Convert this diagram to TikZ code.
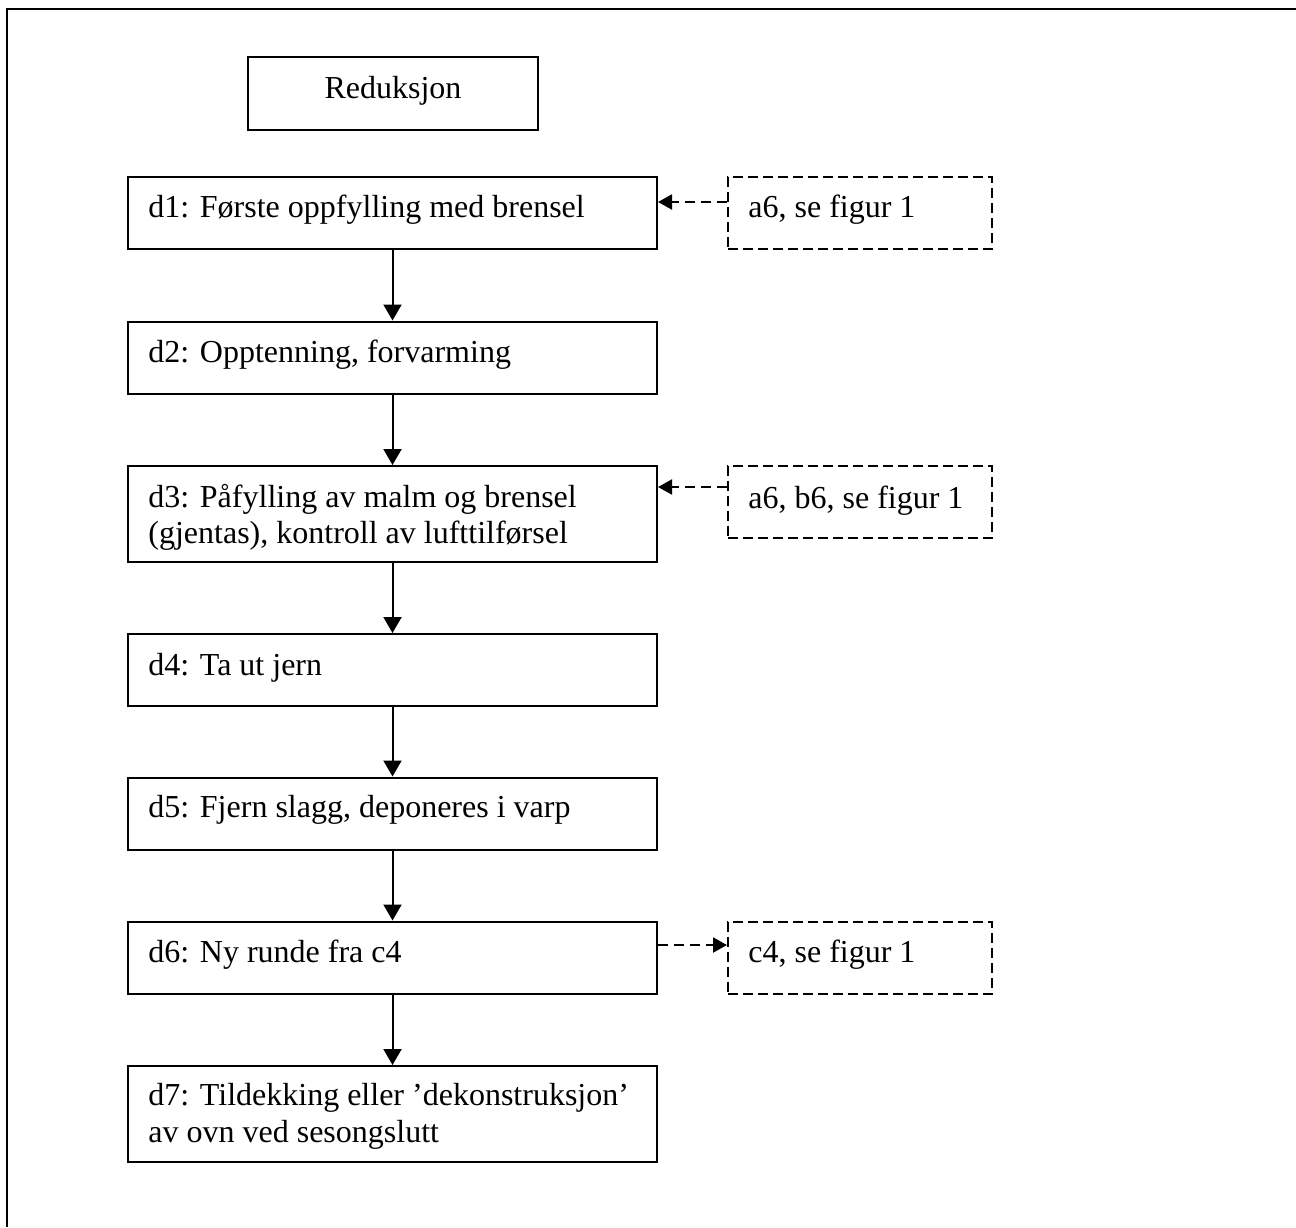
\documentclass[tikz,border=0pt]{standalone}
\usepackage{fontspec}
\setmainfont{Liberation Serif}
\usetikzlibrary{arrows.meta}
\begin{document}
\begin{tikzpicture}[x=0.5pt,y=-0.5pt,
  box/.style={draw, line width=1pt, rectangle, inner sep=0pt},
  stepbox/.style={box, minimum width=264.5pt, minimum height=36pt},
  tallbox/.style={box, minimum width=264.5pt, minimum height=48pt},
  dbox/.style={box, minimum width=132pt, minimum height=36pt, dash pattern=on 5pt off 2.5pt},
  txt/.style={anchor=base west, inner sep=0pt, font=\fontsize{16pt}{18pt}\selectfont},
  arr/.style={line width=1pt, -{Triangle[width=9pt,length=8pt]}},
  darr/.style={line width=1pt, dash pattern=on 5pt off 3pt, -{Triangle[width=7.5pt,length=7pt]}}]
\useasboundingbox (0,0) rectangle (1296,1227);
% outer frame
\coordinate (fbl) at (7,1227);
\coordinate (ftl) at (7,9);
\coordinate (ftr) at (1296,9);
\draw[line width=1pt] (fbl) -- (ftl) -- (ftr);

% title
\node[box, minimum width=145pt, minimum height=36.5pt] (red) at (393,93.5) {};
\node[txt, anchor=base] (redt) at (393,98) {Reduksjon};

% main steps
\node[stepbox] (d1) at (392.5,213) {};
\node[txt] (d1t) at (148,217) {d1: Første oppfylling med brensel};

\node[stepbox] (d2) at (392.5,357.5) {};
\node[txt] (d2t) at (148,362) {d2: Opptenning, forvarming};

\node[tallbox] (d3) at (392.5,514) {};
\node[txt] (d3t) at (148,507) {d3: Påfylling av malm og brensel};
\node[txt] (d3u) at (148,543) {(gjentas), kontroll av lufttilførsel};

\node[stepbox] (d4) at (392.5,670) {};
\node[txt] (d4t) at (148,675) {d4: Ta ut jern};

\node[stepbox] (d5) at (392.5,813.5) {};
\node[txt] (d5t) at (148,817) {d5: Fjern slagg, deponeres i varp};

\node[stepbox] (d6) at (392.5,957.5) {};
\node[txt] (d6t) at (148,962) {d6: Ny runde fra c4};

\node[tallbox] (d7) at (392.5,1114) {};
\node[txt] (d7t) at (148,1105) {d7: Tildekking eller ’dekonstruksjon’};
\node[txt] (d7u) at (148,1142) {av ovn ved sesongslutt};

% dashed reference boxes
\node[dbox] (a6) at (860,213) {};
\node[txt] (a6t) at (748,217) {a6, se figur 1};

\node[dbox] (ab6) at (860,501.5) {};
\node[txt] (ab6t) at (748,508) {a6, b6, se figur 1};

\node[dbox] (c4) at (860,957.5) {};
\node[txt] (c4t) at (748,962) {c4, se figur 1};

% solid arrows
\draw[arr] (d1) -- (d2);
\draw[arr] (d2) -- (d3);
\draw[arr] (d3) -- (d4);
\draw[arr] (d4) -- (d5);
\draw[arr] (d5) -- (d6);
\draw[arr] (d6) -- (d7);

% dashed arrows
\coordinate (a6p) at ([yshift=5.5pt]a6.west);
\draw[darr] (a6p) -- (a6p -| d1.east);
\coordinate (ab6p) at ([yshift=7.25pt]ab6.west);
\draw[darr] (ab6p) -- (ab6p -| d3.east);
\coordinate (d6p) at ([yshift=6.25pt]d6.east);
\draw[darr] (d6p) -- (d6p -| c4.west);
\end{tikzpicture}
\end{document}
